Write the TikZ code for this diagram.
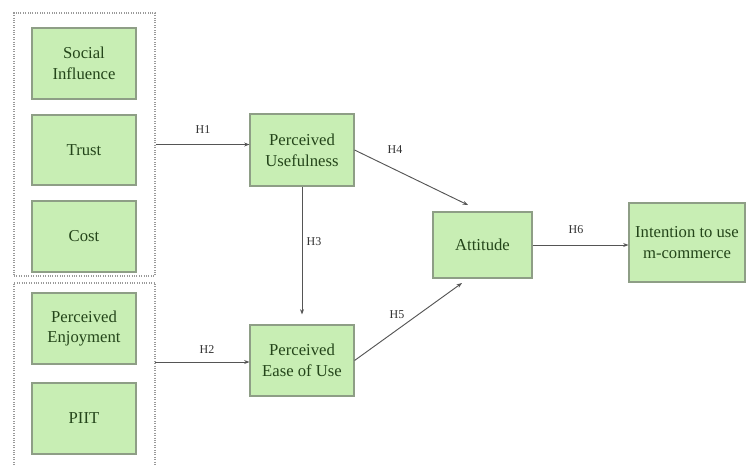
\documentclass[tikz,border=0pt]{standalone}
\usepackage{fontspec}
\setmainfont{Liberation Serif}
\usetikzlibrary{arrows.meta}
\definecolor{boxfill}{HTML}{C8EEB4}
\definecolor{boxline}{HTML}{8E9E86}
\definecolor{boxtext}{HTML}{24451A}
\definecolor{arr}{HTML}{555555}
\definecolor{grp}{HTML}{9A9A9A}
\tikzset{
  px/.style={x={(0.75pt,0)},y={(0,-0.75pt)}},
  cbox/.style={draw=boxline,fill=boxfill,line width=0.8pt,text=boxtext,align=center,
    font=\fontsize{12.5pt}{15.5pt}\selectfont,inner sep=0pt},
  grpbox/.style={draw=grp,densely dotted,line width=0.8pt,inner sep=0pt},
  link/.style={draw=arr,line width=0.7pt,-{Stealth[length=4pt,width=3pt]}},
  hlab/.style={font=\fontsize{9pt}{10pt}\selectfont,text=black!80}
}
\begin{document}
\begin{tikzpicture}[px]
\useasboundingbox (0,0) rectangle (755,465);
% group boxes
\node[grpbox,minimum width=141*0.75pt,minimum height=263*0.75pt] (g1) at (84.5,144.5) {};
\draw[grp,densely dotted,line width=0.8pt] (14,465) -- (14,283) -- (155,283) -- (155,465);
\coordinate (g2e) at (155,362);
% construct boxes
\node[cbox,minimum width=104*0.75pt,minimum height=71*0.75pt] (si) at (84,63.5) {Social\\Influence};
\node[cbox,minimum width=104*0.75pt,minimum height=70*0.75pt] (tr) at (84,150) {Trust};
\node[cbox,minimum width=104*0.75pt,minimum height=71*0.75pt] (co) at (84,236.5) {Cost};
\node[cbox,minimum width=104*0.75pt,minimum height=71*0.75pt] (pe) at (84,328.5) {Perceived\\Enjoyment};
\node[cbox,minimum width=104*0.75pt,minimum height=71*0.75pt] (pi) at (84,418.5) {PIIT};
\node[cbox,minimum width=104*0.75pt,minimum height=72*0.75pt] (pu) at (302,150) {Perceived\\Usefulness};
\node[cbox,minimum width=104*0.75pt,minimum height=71*0.75pt] (peou) at (302,360.5) {Perceived\\Ease of Use};
\node[cbox,minimum width=99*0.75pt,minimum height=66*0.75pt] (att) at (482.5,245) {Attitude};
\node[cbox,minimum width=116*0.75pt,minimum height=79*0.75pt] (int) at (687,242.5) {Intention to use\\m-commerce};
% arrow tip points
\coordinate (t4) at (468,205);
\coordinate (t5) at (462,283);
% connectors
\draw[link] (g1.east) -- (pu.west |- g1.east);
\draw[link] (g2e) -- (peou.west |- g2e);
\draw[link,shorten >=7.5pt] (pu.south) -- (peou.north);
\draw[link] (pu.east) -- (t4);
\draw[link] (peou.east) -- (t5);
\draw[link] (att.east) -- (int.west |- att.east);
% labels
\node[hlab] (h1) at (203,130) {H1};
\node[hlab] (h2) at (207,350) {H2};
\node[hlab] (h3) at (314,242) {H3};
\node[hlab] (h4) at (395,150) {H4};
\node[hlab] (h5) at (397,315) {H5};
\node[hlab] (h6) at (576,230) {H6};
\end{tikzpicture}
\end{document}
